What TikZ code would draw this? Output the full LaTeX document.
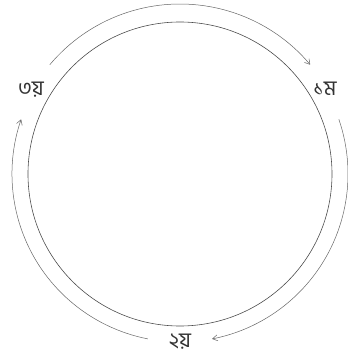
\documentclass[tikz,border=0pt]{standalone}
\usepackage{fontspec}
\newfontfamily\bnfont[Script=Bengali]{Hind Siliguri}
\usetikzlibrary{arrows.meta}
\begin{document}
\begin{tikzpicture}[x=1pt,y=1pt,
  ring/.style={draw=black!70, line width=0.6pt},
  cyc/.style={draw=black!60, line width=0.5pt, -{Straight Barb[length=5pt,width=6pt]}},
  lbl/.style={font=\bnfont\fontsize{21}{21}\selectfont, text=black!80, inner sep=1pt}]
\useasboundingbox (0,0) rectangle (348,360);
\node[ring, circle, minimum size=304pt, inner sep=0pt] (c) at (180,186) {};
\node[lbl] (one) at (325,271) {১ম};
\node[lbl] (two) at (180,18) {২য়};
\node[lbl] (three) at (31,270) {৩য়};
\draw[cyc] (c.center) ++(140:170) arc[start angle=140, end angle=40, radius=170];
\draw[cyc] (c.center) ++(19:168) arc[start angle=19, end angle=-79, radius=168];
\draw[cyc] (c.center) ++(-101:168) arc[start angle=-101, end angle=-199, radius=168];
\end{tikzpicture}
\end{document}
